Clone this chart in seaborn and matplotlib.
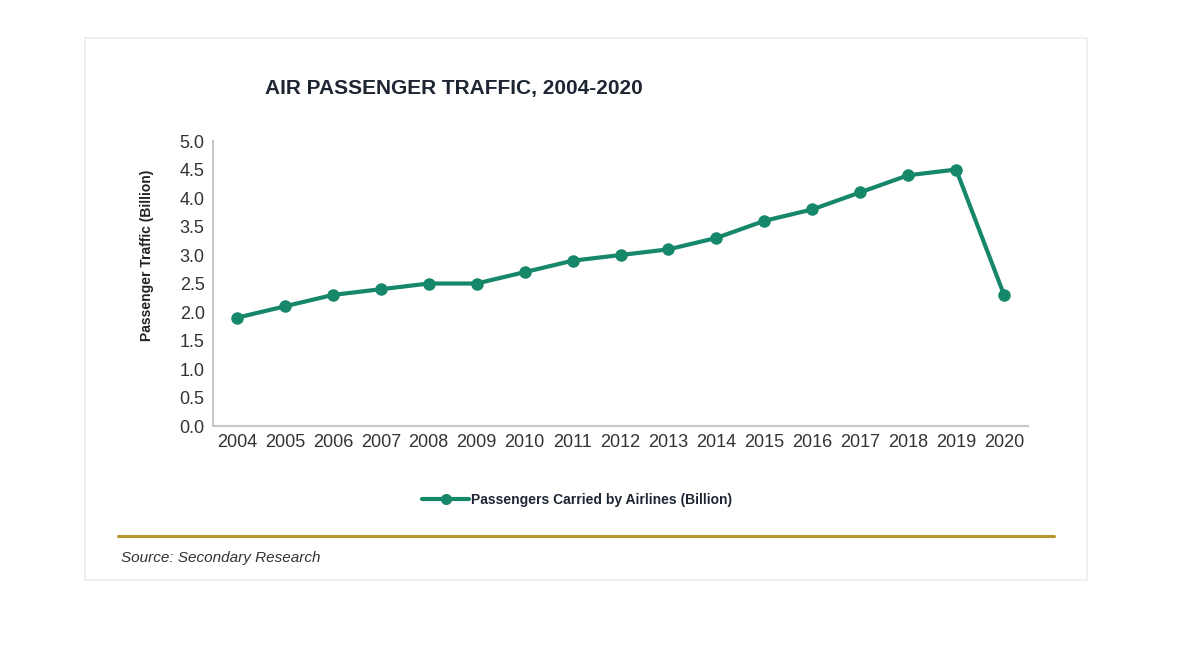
import matplotlib
matplotlib.use("Agg")
import matplotlib.pyplot as plt
import seaborn as sns
import pandas as pd
from matplotlib.lines import Line2D
from matplotlib.patches import Rectangle

# data
years = ["2004", "2005", "2006", "2007", "2008", "2009", "2010", "2011", "2012",
         "2013", "2014", "2015", "2016", "2017", "2018", "2019", "2020"]
passengers = [1.9, 2.1, 2.3, 2.4, 2.5, 2.5, 2.7, 2.9, 3.0,
              3.1, 3.3, 3.6, 3.8, 4.1, 4.4, 4.5, 2.3]
y_ticks = [0.0, 0.5, 1.0, 1.5, 2.0, 2.5, 3.0, 3.5, 4.0, 4.5, 5.0]

series_name = "Passengers Carried by Airlines (Billion)"
green = "#17876a"
text_dark = "#1f2633"

df = pd.DataFrame({"year": years, "value": passengers})

sns.set_theme(style="white")
plt.rcParams["font.family"] = ["Liberation Sans", "DejaVu Sans"]

fig = plt.figure(figsize=(12, 6.5), dpi=100)
ax = fig.add_axes([0.1775, 0.3446, 0.6792, 0.4384])

sns.lineplot(data=df, x="year", y="value", ax=ax, color=green, linewidth=3,
             marker="o", markersize=9, markeredgewidth=0, sort=False)

ax.set_xlim(-0.5, len(years) - 0.5)
ax.set_ylim(0, 5.0)
ax.set_yticks(y_ticks)
ax.set_yticklabels([f"{t:.1f}" for t in y_ticks])
ax.tick_params(axis="both", labelsize=13, length=0, pad=6)
for lab in ax.get_xticklabels() + ax.get_yticklabels():
    lab.set_color("#333333")

sns.despine(ax=ax)
for side in ["left", "bottom"]:
    ax.spines[side].set_color("#c8c8c8")
    ax.spines[side].set_linewidth(1.5)

ax.set_xlabel("")
ax.set_ylabel("Passenger Traffic (Billion)", fontsize=10, fontweight="bold",
              color="#222222")
ax.yaxis.set_label_coords(-0.073, 0.6)

# title
fig.text(0.221, 0.864, "AIR PASSENGER TRAFFIC, 2004-2020", fontsize=15,
         fontweight="bold", color=text_dark, va="center", ha="left")

# legend below plot
handle = Line2D([], [], color=green, linewidth=3, marker="o", markersize=8,
                markeredgewidth=0)
fig.legend([handle], [series_name], loc="center", bbox_to_anchor=(0.481, 0.231),
           frameon=False, handlelength=3.4, handletextpad=0.15,
           prop={"weight": "bold", "size": 10})
for t in fig.legends[0].get_texts():
    t.set_color(text_dark)

# gold rule and source note
fig.add_artist(Line2D([0.098, 0.878], [0.175, 0.175], color="#b8962e", linewidth=2.2))
fig.text(0.101, 0.141, "Source: Secondary Research", fontsize=11, style="italic",
         color="#333333", va="center", ha="left")

# faint outer frame
fig.add_artist(Rectangle((0.071, 0.108), 0.835, 0.834, fill=False,
                         edgecolor="#ececec", linewidth=1.2))

fig.savefig("out.png", dpi=100, facecolor="white")
